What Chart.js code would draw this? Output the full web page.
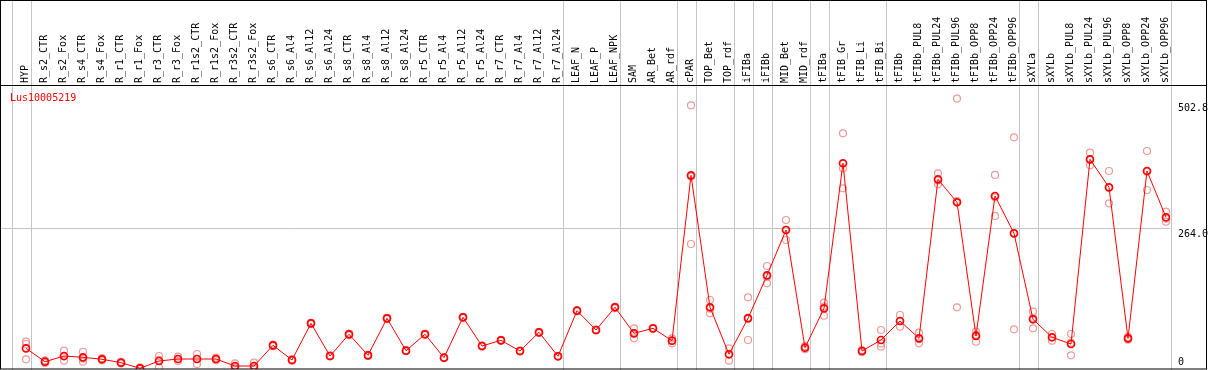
<!DOCTYPE html>
<html>
<head>
<meta charset="utf-8">
<script src="https://cdn.jsdelivr.net/npm/chart.js@4/dist/chart.umd.min.js"></script>
<style>
  html, body { margin: 0; padding: 0; background: #fff; }
  #wrap { width: 1209px; height: 370px; }
</style>
</head>
<body>
<div id="wrap"><canvas id="expChart" width="1209" height="370"></canvas></div>
<script>
  // sample names, in plot order
  const categories = [
    'HYP', 'R_s2_CTR', 'R_s2_Fox', 'R_s4_CTR', 'R_s4_Fox', 'R_r1_CTR', 'R_r1_Fox',
    'R_r3_CTR', 'R_r3_Fox', 'R_r1s2_CTR', 'R_r1s2_Fox', 'R_r3s2_CTR', 'R_r3s2_Fox',
    'R_s6_CTR', 'R_s6_Al4', 'R_s6_Al12', 'R_s6_Al24', 'R_s8_CTR', 'R_s8_Al4', 'R_s8_Al12',
    'R_s8_Al24', 'R_r5_CTR', 'R_r5_Al4', 'R_r5_Al12', 'R_r5_Al24', 'R_r7_CTR', 'R_r7_Al4',
    'R_r7_Al12', 'R_r7_Al24', 'LEAF_N', 'LEAF_P', 'LEAF_NPK', 'SAM', 'AR_Bet', 'AR_rdf',
    'cPAR', 'TOP_Bet', 'TOP_rdf', 'iFIBa', 'iFIBb', 'MID_Bet', 'MID_rdf', 'tFIBa',
    'tFIB_Gr', 'tFIB_Li', 'tFIB_Bi', 'tFIBb', 'tFIBb_PUL8', 'tFIBb_PUL24', 'tFIBb_PUL96',
    'tFIBb_OPP8', 'tFIBb_OPP24', 'tFIBb_OPP96', 'sXYLa', 'sXYLb', 'sXYLb_PUL8',
    'sXYLb_PUL24', 'sXYLb_PUL96', 'sXYLb_OPP8', 'sXYLb_OPP24', 'sXYLb_OPP96'
  ];

  // mean expression per sample
  const meanValues = [
    43.1, 18.4, 28.9, 26.5, 22.9, 16.6, 6.3, 19.7, 23.4, 23.4, 23.4, 10.5, 10.5,
    48.6, 21.6, 89.1, 28.9, 68.9, 30.2, 98.3, 38.7, 68.9, 25.8, 100.2, 47.3, 57.8, 38.1,
    72.6, 28.4, 112.3, 76.8, 118.6, 70.7, 79.9, 57.1, 361.6, 118.6, 32.1, 98.3, 177.5,
    260.9, 44.2, 116.7, 383.7, 38.1, 58.4, 93.4, 61.5, 354.2, 311.9, 65.8, 323.5, 254.8,
    96.5, 63.4, 51.0, 391.0, 339.5, 61.5, 369.5, 284.3
  ];

  // individual replicates
  const rep1 = [
    55.3, 16.0, 38.7, 36.8, 21.0, 15.0, 5.0, 28.9, 27.6, 32.6, 21.0, 15.5, 16.6,
    47.0, 20.0, 88.0, 28.0, 67.0, 29.0, 97.0, 38.0, 68.0, 25.0, 99.0, 46.0, 57.0, 37.0,
    71.0, 28.0, 111.0, 76.0, 117.0, 79.9, 79.0, 61.5, 490.5, 132.0, 43.1, 137.0, 194.6,
    279.3, 41.3, 127.1, 438.9, 36.0, 76.8, 104.4, 71.8, 365.3, 502.8, 73.7, 362.3, 431.5,
    110.5, 69.4, 69.4, 403.2, 369.5, 59.0, 406.3, 294.6
  ];
  const rep2 = [
    51.0, 18.0, 28.0, 24.0, 23.0, 17.0, 6.0, 22.0, 23.0, 23.4, 23.0, 8.0, 8.0,
    49.0, 22.0, 90.0, 29.0, 70.0, 31.0, 99.0, 39.0, 70.0, 26.0, 101.0, 48.0, 58.0, 38.5,
    73.0, 29.0, 113.0, 77.0, 119.0, 70.7, 80.5, 57.0, 359.2, 116.0, 33.0, 99.6, 175.0,
    261.0, 44.0, 120.0, 374.5, 38.0, 52.0, 93.0, 60.0, 352.0, 314.3, 68.0, 321.0, 254.8,
    99.0, 63.7, 53.4, 390.0, 339.0, 61.0, 368.0, 282.0
  ];
  const rep3 = [
    22.9, 21.0, 20.3, 18.4, 25.0, 18.0, 8.0, 8.1, 19.7, 14.2, 26.0, 8.0, 7.0,
    50.0, 23.0, 89.5, 30.0, 69.5, 30.5, 99.0, 39.5, 69.0, 26.5, 100.5, 48.0, 58.5, 39.0,
    73.5, 28.5, 113.0, 77.5, 120.0, 61.5, 80.0, 52.3, 235.1, 107.5, 20.3, 58.4, 162.8,
    242.5, 47.0, 103.1, 337.7, 40.0, 46.1, 82.9, 52.3, 345.0, 118.6, 55.3, 286.8, 78.1,
    79.9, 57.1, 30.2, 380.0, 310.0, 64.0, 334.5, 276.2
  ];

  // gray separators are drawn after these sample indices
  const groupEnds = [-1, 0, 28, 31, 34, 35, 37, 38, 39, 41, 42, 45, 52, 53, 60];

  const geneName = 'Lus10005219';
  const yTickLabels = ['502.8', '264.0', '0'];
  const yGridValue = 264.0;

  const toPoints = vals => vals.map((v, i) => ({ x: i, y: v }));

  const monoFont = '10px "DejaVu Sans Mono", "Liberation Mono", monospace';

  const framePlugin = {
    id: 'frame',
    beforeDraw(chart) {
      const ctx = chart.ctx;
      const xs = chart.scales.x;
      const ys = chart.scales.y;
      const area = chart.chartArea;
      ctx.save();
      ctx.fillStyle = '#fff';
      ctx.fillRect(0, 0, chart.width, chart.height);

      ctx.strokeStyle = '#c4c4c4';
      ctx.lineWidth = 1;
      groupEnds.forEach(g => {
        const x = Math.round(xs.getPixelForValue(g + 0.24)) + 0.5;
        ctx.beginPath();
        ctx.moveTo(x, 0);
        ctx.lineTo(x, chart.height);
        ctx.stroke();
      });
      const gy = Math.round(ys.getPixelForValue(yGridValue)) + 0.5;
      ctx.beginPath();
      ctx.moveTo(0, gy);
      ctx.lineTo(area.right, gy);
      ctx.stroke();
      ctx.restore();
    },
    afterDraw(chart) {
      const ctx = chart.ctx;
      const xs = chart.scales.x;
      const ys = chart.scales.y;
      const area = chart.chartArea;
      ctx.save();

      // sample labels, rotated, in the header
      ctx.font = monoFont;
      ctx.fillStyle = '#000';
      ctx.textAlign = 'left';
      ctx.textBaseline = 'alphabetic';
      categories.forEach((c, i) => {
        const x = xs.getPixelForValue(i) + 1.5;
        ctx.save();
        ctx.translate(x, 83);
        ctx.rotate(-Math.PI / 2);
        ctx.fillText(c, 0, 0);
        ctx.restore();
      });

      // gene name
      ctx.fillStyle = '#ff0000';
      ctx.fillText(geneName, 10, 101);

      // right-side value labels
      ctx.fillStyle = '#000';
      ctx.fillText(yTickLabels[0], 1178, area.top + 24.5);
      ctx.fillText(yTickLabels[1], 1178, ys.getPixelForValue(yGridValue) + 8.5);
      ctx.fillText(yTickLabels[2], 1178, area.bottom - 4);

      // black frame
      ctx.strokeStyle = '#000';
      ctx.lineWidth = 1;
      ctx.strokeRect(0.5, 0.5, 1206, 368.5);
      ctx.beginPath();
      ctx.moveTo(0, 85.5);
      ctx.lineTo(1207, 85.5);
      ctx.stroke();
      ctx.restore();
    }
  };

  const ctx = document.getElementById('expChart').getContext('2d');
  new Chart(ctx, {
    type: 'line',
    data: {
      datasets: [
        {
          label: 'mean',
          data: toPoints(meanValues),
          borderColor: '#ff0000',
          borderWidth: 1,
          pointRadius: 3.5,
          pointBorderWidth: 1.7,
          pointBorderColor: '#ff0000',
          pointBackgroundColor: 'rgba(0,0,0,0)',
          tension: 0
        },
        { label: 'rep1', data: toPoints(rep1), showLine: false, pointRadius: 3.5,
          pointBorderWidth: 1.2, pointBorderColor: '#ee9a9a', pointBackgroundColor: 'rgba(0,0,0,0)' },
        { label: 'rep2', data: toPoints(rep2), showLine: false, pointRadius: 3.5,
          pointBorderWidth: 1.2, pointBorderColor: '#ee9a9a', pointBackgroundColor: 'rgba(0,0,0,0)' },
        { label: 'rep3', data: toPoints(rep3), showLine: false, pointRadius: 3.5,
          pointBorderWidth: 1.2, pointBorderColor: '#ee9a9a', pointBackgroundColor: 'rgba(0,0,0,0)' }
      ]
    },
    options: {
      responsive: false,
      animation: false,
      layout: {
        autoPadding: false,
        padding: { left: 1, right: 39, top: 86, bottom: 1 }
      },
      plugins: {
        legend: { display: false },
        tooltip: { enabled: false }
      },
      scales: {
        x: {
          type: 'linear',
          display: false,
          min: -25 / 19,
          max: (1170 - 26) / 19
        },
        y: {
          type: 'linear',
          display: false,
          min: 5,
          max: 526
        }
      }
    },
    plugins: [framePlugin]
  });
</script>
</body>
</html>
